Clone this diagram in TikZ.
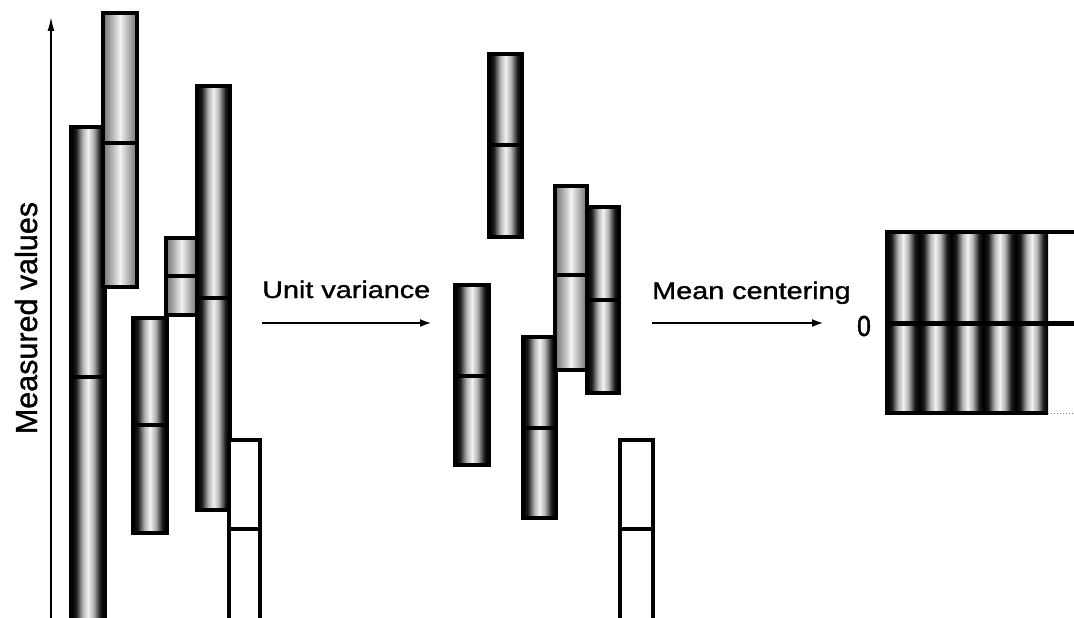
\documentclass[tikz,border=0pt]{standalone}
\usepackage{fontspec}
\setmainfont{Liberation Sans}
\newfontfamily\labfont[FakeStretch=1.2,FakeBold=1.2]{Liberation Sans}
\newfontfamily\ylabfont[FakeBold=1.2]{Liberation Sans}
\newfontfamily\zerofont[FakeStretch=0.85,FakeBold=1.5]{Liberation Sans}
\usetikzlibrary{arrows.meta}
\pgfdeclarehorizontalshading{darkbar}{100bp}{color(0bp)=(black); color(25bp)=(black); color(32bp)=(black!90); color(42bp)=(black!30); color(50bp)=(black!5); color(58bp)=(black!30); color(68bp)=(black!90); color(75bp)=(black); color(100bp)=(black)}
\pgfdeclarehorizontalshading{lightbar}{100bp}{color(0bp)=(black!55); color(25bp)=(black!55); color(33bp)=(black!40); color(50bp)=(black!5); color(67bp)=(black!40); color(75bp)=(black!55); color(100bp)=(black!55)}
\tikzset{
  darkfill/.style={shade, shading=darkbar},
  lightfill/.style={shade, shading=lightbar},
  whitefill/.style={fill=white},
  barborder/.style={draw=black, line width=3.4pt},
  meanline/.style={draw=black, line width=3.6pt},
  conn/.style={-{Latex[length=11pt,width=8pt]}, line width=1.6pt},
  axisline/.style={-{Latex[length=14pt,width=7pt]}, line width=1.6pt},
  lab/.style={font=\labfont\fontsize{24}{28}\selectfont, inner sep=0pt},
  ylab/.style={font=\ylabfont\fontsize{30.5}{34}\selectfont, inner sep=0pt},
  zlab/.style={font=\zerofont\fontsize{29}{32}\selectfont, inner sep=0pt},
}
\newcommand\drawbar[7]{%
  \path[#7] (#2,#3) rectangle (#4,#5);
  \draw[barborder] (#2,#3) rectangle (#4,#5);
  \draw[meanline] (#2,#6) -- (#4,#6);
  \coordinate (#1) at ({(#2+#4)/2},#6);
}
\begin{document}
\begin{tikzpicture}[x=1pt,y=-1pt]
\path[use as bounding box, fill=white] (0,0) rectangle (1074,618);
\clip (0,0) rectangle (1074,618);

% axis
\coordinate (axb) at (51,625);
\coordinate (axt) at (51,17);
\draw[axisline] (axb) -- (axt);
\node[ylab, rotate=90, anchor=base] (ylabel) at (37,318) {Measured values};

% left panel
\drawbar{b1}{71}{127}{105}{635}{377}{darkfill}
\drawbar{b2}{103}{13}{137}{287}{143}{lightfill}
\drawbar{b5}{133}{318}{167}{533}{425}{darkfill}
\drawbar{b3}{166}{238}{197}{315}{276}{lightfill}
\drawbar{b4}{197}{86}{230}{510}{298}{darkfill}
\drawbar{b6}{229}{440}{260}{635}{529}{whitefill}

% arrow 1
\coordinate (a1s) at (262,323);
\coordinate (a1e) at (431,323);
\draw[conn] (a1s) -- (a1e);
\node[lab, anchor=base west] (l1) at (262,298) {Unit variance};

% middle panel
\drawbar{mA}{489}{54}{522}{237}{145}{darkfill}
\drawbar{mD}{455}{285}{489}{465}{376}{darkfill}
\drawbar{mE}{523}{337}{556}{518}{428}{darkfill}
\drawbar{mB}{555}{186}{587}{370}{275}{lightfill}
\drawbar{mC}{587}{207}{619}{393}{300}{darkfill}
\drawbar{mF}{620}{440}{653}{635}{529}{whitefill}

% arrow 2
\coordinate (a2s) at (652,323);
\coordinate (a2e) at (823,323);
\draw[conn] (a2s) -- (a2e);
\node[lab, anchor=base west] (l2) at (652,299) {Mean centering};

% right panel
\foreach \i in {0,...,4}{
  \shade[shading=darkbar] ({887+\i*32.2},232) rectangle ({887+(\i+1)*32.2},413);
}
\coordinate (rtl) at (887,232);
\coordinate (rbl) at (887,413);
\coordinate (rbr) at (1048,413);
\coordinate (rtr) at (1080,232);
\coordinate (redge) at (1074,413);
\draw[barborder] (rtr) -- (rtl) -- (rbl) -- (rbr);
\draw[black!50, dotted, line width=1pt] (rbr) -- (redge);
\coordinate (rml) at (887,323);
\coordinate (rmr) at (1080,323);
\draw[meanline, line width=5pt] (rml) -- (rmr);
\node[zlab] (zero) at (864,326) {0};
\end{tikzpicture}
\end{document}
